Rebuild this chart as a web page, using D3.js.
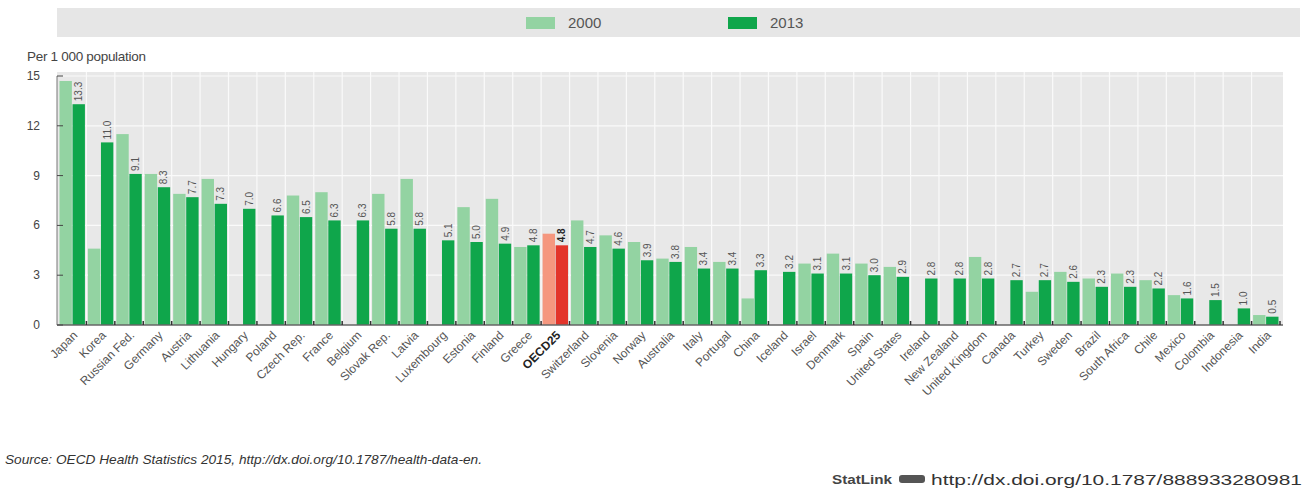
<!DOCTYPE html>
<html>
<head>
<meta charset="utf-8">
<script src="https://cdn.jsdelivr.net/npm/d3@7"></script>
<style>
  body { margin: 0; background: #fff; }
  text { font-family: "Liberation Sans", Arial, sans-serif; }
</style>
</head>
<body>
<script>
const countries = ["Japan", "Korea", "Russian Fed.", "Germany", "Austria", "Lithuania", "Hungary", "Poland",
  "Czech Rep.", "France", "Belgium", "Slovak Rep.", "Latvia", "Luxembourg", "Estonia", "Finland", "Greece",
  "OECD25", "Switzerland", "Slovenia", "Norway", "Australia", "Italy", "Portugal", "China", "Iceland", "Israel",
  "Denmark", "Spain", "United States", "Ireland", "New Zealand", "United Kingdom", "Canada", "Turkey", "Sweden",
  "Brazil", "South Africa", "Chile", "Mexico", "Colombia", "Indonesia", "India"];

const values2000 = [14.7, 4.6, 11.5, 9.1, 7.9, 8.8, null, null,
  7.8, 8.0, null, 7.9, 8.8, null, 7.1, 7.6, 4.7,
  5.5, 6.3, 5.4, 5.0, 4.0, 4.7, 3.8, 1.6, null, 3.7,
  4.3, 3.7, 3.5, null, null, 4.1, null, 2.0, 3.2,
  2.8, 3.1, 2.7, 1.8, null, null, 0.6];

const values2013 = [13.3, 11.0, 9.1, 8.3, 7.7, 7.3, 7.0, 6.6,
  6.5, 6.3, 6.3, 5.8, 5.8, 5.1, 5.0, 4.9, 4.8,
  4.8, 4.7, 4.6, 3.9, 3.8, 3.4, 3.4, 3.3, 3.2, 3.1,
  3.1, 3.0, 2.9, 2.8, 2.8, 2.8, 2.7, 2.7, 2.6,
  2.3, 2.3, 2.2, 1.6, 1.5, 1.0, 0.5];

const years = ["2000", "2013"];
const yTicks = [0, 3, 6, 9, 12, 15];

document.addEventListener("DOMContentLoaded", function() {

    const width = 1306;
    const height = 499;

    const svg = d3.select("body").append("svg")
    .attr("width", width)
    .attr("height", height);

    const left = 57, right = 1281, top = 72, bottom = 325;

    const x = d3.scaleBand().domain(countries).range([left + 1, right - 1]);
    const inner = d3.scaleBand().domain(years).range([1.5, x.bandwidth() - 1.5]).paddingInner(0.05);
    const y = d3.scaleLinear().domain([0, 15]).range([bottom, 76]);

    const colors = { "2000": "#93d3a2", "2013": "#0fa64b" };
    const oecdColors = { "2000": "#f5977f", "2013": "#e3342a" };

    // legend band
    svg.append("rect")
    .attr("x", left).attr("y", 8)
    .attr("width", 1300 - left).attr("height", 29)
    .attr("fill", "#e6e6e6");

    const legendPos = [526, 728];
    years.forEach((yr, i) => {
        svg.append("rect")
        .attr("x", legendPos[i]).attr("y", 17)
        .attr("width", 29).attr("height", 12)
        .attr("fill", colors[yr]);
        svg.append("text")
        .attr("x", legendPos[i] + 42).attr("y", 28)
        .attr("font-size", 15)
        .attr("fill", "#555")
        .text(yr);
    });

    svg.append("text")
    .attr("x", 27).attr("y", 61)
    .attr("font-size", 13.5)
    .attr("fill", "#444")
    .attr("letter-spacing", -0.3)
    .text("Per 1 000 population");

    // plot background
    svg.append("rect")
    .attr("x", left).attr("y", top)
    .attr("width", right + 2 - left).attr("height", bottom - top)
    .attr("fill", "#e8e8e8");

    // grid
    svg.append("g")
    .selectAll("line")
    .data(countries.slice(1))
    .join("line")
    .attr("x1", d => x(d)).attr("x2", d => x(d))
    .attr("y1", top).attr("y2", bottom)
    .attr("stroke", "#fafafa").attr("stroke-width", 1.2);

    svg.append("g")
    .selectAll("line")
    .data(yTicks.slice(1))
    .join("line")
    .attr("x1", left).attr("x2", right + 2)
    .attr("y1", d => y(d)).attr("y2", d => y(d))
    .attr("stroke", "#fafafa").attr("stroke-width", 1.2);

    // bars
    const rows = countries.map((c, i) => ({ country: c, v: { "2000": values2000[i], "2013": values2013[i] } }));

    const groups = svg.append("g")
    .selectAll("g")
    .data(rows)
    .join("g")
    .attr("transform", d => `translate(${x(d.country)},0)`);

    groups.selectAll("rect")
    .data(d => years.filter(yr => d.v[yr] != null).map(yr => ({ yr: yr, value: d.v[yr], country: d.country })))
    .join("rect")
    .attr("x", d => inner(d.yr))
    .attr("width", inner.bandwidth())
    .attr("y", d => y(d.value))
    .attr("height", d => y(0) - y(d.value))
    .attr("fill", d => d.country === "OECD25" ? oecdColors[d.yr] : colors[d.yr]);

    // value labels for 2013
    groups.append("text")
    .attr("transform", d => `translate(${inner("2013") + inner.bandwidth() / 2 + 3.5},${y(d.v["2013"]) - 3}) rotate(-90)`)
    .attr("font-size", 10)
    .attr("font-weight", d => d.country === "OECD25" ? "bold" : "normal")
    .attr("fill", d => d.country === "OECD25" ? "#222" : "#555")
    .text(d => d3.format(".1f")(d.v["2013"]));

    // axes
    svg.append("line")
    .attr("x1", left).attr("x2", left)
    .attr("y1", 76).attr("y2", bottom)
    .attr("stroke", "#777");

    svg.append("line")
    .attr("x1", left).attr("x2", right + 2)
    .attr("y1", bottom).attr("y2", bottom)
    .attr("stroke", "#666").attr("stroke-width", 1.5);

    svg.append("g")
    .selectAll("line")
    .data(yTicks)
    .join("line")
    .attr("x1", left).attr("x2", left + 6)
    .attr("y1", d => y(d)).attr("y2", d => y(d))
    .attr("stroke", "#444");

    svg.append("g")
    .selectAll("text")
    .data(yTicks)
    .join("text")
    .attr("x", 40).attr("y", d => y(d) + 4)
    .attr("text-anchor", "end")
    .attr("font-size", 12)
    .attr("fill", "#444")
    .text(d => d);

    svg.append("g")
    .selectAll("line")
    .data(countries)
    .join("line")
    .attr("x1", d => x(d) + x.bandwidth()).attr("x2", d => x(d) + x.bandwidth())
    .attr("y1", bottom - 4).attr("y2", bottom)
    .attr("stroke", "#333").attr("stroke-width", 1.5);

    // country labels
    svg.append("g")
    .selectAll("text")
    .data(countries)
    .join("text")
    .attr("transform", d => `translate(${x(d) + x.bandwidth() / 2 + 6},${bottom + 11}) rotate(-45)`)
    .attr("text-anchor", "end")
    .attr("font-size", 12)
    .attr("font-weight", d => d === "OECD25" ? "bold" : "normal")
    .attr("fill", d => d === "OECD25" ? "#222" : "#555")
    .text(d => d);

    // footer
    const src = svg.append("text")
    .attr("x", 5).attr("y", 464)
    .attr("font-size", 13)
    .attr("font-style", "italic")
    .attr("fill", "#333")
    .attr("textLength", 477)
    .attr("lengthAdjust", "spacingAndGlyphs");
    src.append("tspan").text("Source:  ");
    src.append("tspan").text("OECD Health Statistics 2015, http://dx.doi.org/10.1787/health-data-en.");

    svg.append("text")
    .attr("x", 832).attr("y", 484)
    .attr("font-size", 12)
    .attr("font-weight", "bold")
    .attr("font-family", "DejaVu Sans Mono, monospace")
    .attr("fill", "#444")
    .attr("textLength", 60)
    .attr("lengthAdjust", "spacingAndGlyphs")
    .text("StatLink");

    svg.append("rect")
    .attr("x", 899).attr("y", 475)
    .attr("width", 26).attr("height", 8)
    .attr("rx", 3)
    .attr("fill", "#555");

    svg.append("text")
    .attr("x", 931).attr("y", 485)
    .attr("font-size", 15)
    .attr("fill", "#333")
    .attr("textLength", 371)
    .attr("lengthAdjust", "spacingAndGlyphs")
    .text("http://dx.doi.org/10.1787/888933280981");
});
</script>
</body>
</html>
